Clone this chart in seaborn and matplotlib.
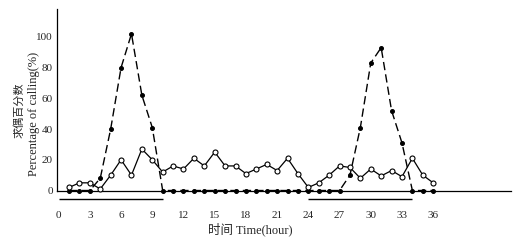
import numpy as np
import pandas as pd
import matplotlib
matplotlib.use("Agg")
import matplotlib.pyplot as plt
import seaborn as sns

# ---- data ----
hours = list(range(1, 37))
calling_dashed = [0, 0, 0, 8, 40, 80, 102, 62, 41, 0,
                  0, 0, 0, 0, 0, 0, 0, 0, 0, 0,
                  0, 0, 0, 0, 0, 0, 0, 10, 41, 83,
                  93, 52, 31, 0, 0, 0]
calling_solid = [2, 5, 5, 1, 10, 20, 10, 27, 20, 12,
                 16, 14, 21, 16, 25, 16, 16, 11, 14, 17,
                 13, 21, 11, 2, 5, 10, 16, 15, 8, 14,
                 9.5, 13, 9, 21, 10, 5]
x_ticks = list(range(0, 37, 3))
y_ticks = [0, 20, 40, 60, 80, 100]
dark_periods = [(0, 10), (24, 34)]

sns.set_style("white")
plt.rcParams['font.family'] = ['Liberation Serif', 'Noto Sans CJK SC', 'DejaVu Sans']

fig = plt.figure(figsize=(5.19, 2.43), dpi=100)
ax = fig.add_axes([0.110, 0.216, 0.875, 0.746])

df = pd.DataFrame({"hour": hours, "dashed": calling_dashed, "solid": calling_solid})

sns.lineplot(data=df, x="hour", y="dashed", ax=ax, color="black", linewidth=1.0,
             linestyle=(0, (6, 3)), marker="o", markersize=2.8, markerfacecolor="black",
             markeredgecolor="black", clip_on=False, zorder=3)
sns.lineplot(data=df, x="hour", y="solid", ax=ax, color="black", linewidth=0.9,
             marker="o", markersize=3.6, markerfacecolor="white",
             markeredgecolor="black", markeredgewidth=0.8, clip_on=False, zorder=4)

for (a, b) in dark_periods:
    ax.plot([a, b], [-5.5, -5.5], color="black", linewidth=1.0, clip_on=False,
            solid_capstyle="butt")

ax.set_xlim(-0.15, 43.5)
ax.set_ylim(0, 118)
ax.set_xticks(x_ticks)
ax.set_yticks(y_ticks)
ax.tick_params(axis="x", length=0, pad=15, labelsize=8)
ax.tick_params(axis="y", length=0, pad=3, labelsize=8)
for s in ["top", "right"]:
    ax.spines[s].set_visible(False)
for s in ["left", "bottom"]:
    ax.spines[s].set_color("black")
    ax.spines[s].set_linewidth(0.9)

ax.set_xlabel("")
ax.set_ylabel("")
fig.text(0.482, 0.057, "时间 Time(hour)", ha="center", va="center", fontsize=9)
fig.text(0.036, 0.545, "求偶百分数", rotation=90, ha="center", va="center", fontsize=8)
fig.text(0.065, 0.53, "Percentage of calling(%)", rotation=90, ha="center", va="center", fontsize=9)

fig.savefig("out.png", dpi=100)
